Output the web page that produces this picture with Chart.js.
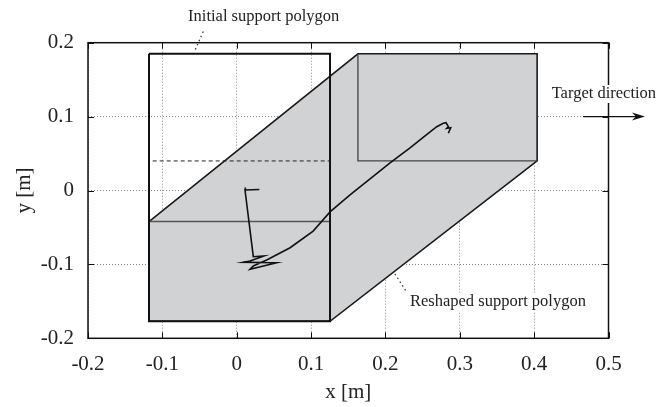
<!DOCTYPE html>
<html>
<head>
<meta charset="utf-8">
<script src="https://cdn.jsdelivr.net/npm/chart.js@4/dist/chart.umd.min.js"></script>
<style>
html,body{margin:0;padding:0;background:#fff;}
#wrap{width:672px;height:407px;position:relative;}
</style>
</head>
<body>
<div id="wrap"><canvas id="c" width="672" height="407"></canvas></div>
<script>
// ---- data ----
const xTicks = [-0.2, -0.1, 0, 0.1, 0.2, 0.3, 0.4, 0.5];
const yTicks = [-0.2, -0.1, 0, 0.1, 0.2];
const xLabel = 'x [m]';
const yLabel = 'y [m]';

// initial support polygon (rectangle) x, y
const initX = [-0.118, 0.1255, 0.1255, -0.118, -0.118];
const initY = [0.185, 0.185, -0.177, -0.177, 0.185];
// dashed line inside initial polygon
const dashX = [-0.113, 0.1255];
const dashY = [0.040, 0.040];
// reshaped support polygon outline
const reshX = [-0.118, -0.118, 0.163, 0.404, 0.404, 0.1255, -0.118];
const reshY = [-0.177, -0.042, 0.185, 0.185, 0.040, -0.177, -0.177];
// inner edges of the shifted upper part
const upperInnerX = [0.163, 0.163, 0.404];
const upperInnerY = [0.185, 0.040, 0.040];
// top edge of the remaining lower part
const lowerTopX = [-0.118, 0.1255];
const lowerTopY = [-0.042, -0.042];
// trajectory
const trajX = [0.0304, 0.0112, 0.0118, 0.0112, 0.0223, 0.0367, 0.0179, 0.0089, 0.0538, 0.0179, 0.0223, 0.0403, 0.0718, 0.1028, 0.1255, 0.1524, 0.1793, 0.2062, 0.2331, 0.2533, 0.2690, 0.2778, 0.2815, 0.2846, 0.2824, 0.2878, 0.2846];
const trajY = [0.0014, 0.0007, 0.0041, -0.0020, -0.0896, -0.0886, -0.0954, -0.0972, -0.0977, -0.1066, -0.1022, -0.0940, -0.0774, -0.0550, -0.0290, -0.0060, 0.0157, 0.0373, 0.0576, 0.0738, 0.0863, 0.0909, 0.0917, 0.0863, 0.0842, 0.0850, 0.0774];

const pts = (xs, ys) => xs.map((x, i) => ({x: x, y: ys[i]}));

const FONT = "'Liberation Serif', 'DejaVu Serif', serif";

const boxPlugin = {
  id: 'boxPlugin',
  afterDraw(chart) {
    const ctx = chart.ctx, a = chart.chartArea;
    const xs = chart.scales.x, ys = chart.scales.y;
    ctx.save();
    // tick marks (inside)
    ctx.strokeStyle = '#111'; ctx.lineWidth = 1; ctx.setLineDash([]);
    const tl = 6;
    xTicks.forEach(v => {
      const px = Math.round(xs.getPixelForValue(v)) + 0.5;
      ctx.beginPath(); ctx.moveTo(px, a.bottom); ctx.lineTo(px, a.bottom - tl);
      ctx.moveTo(px, a.top); ctx.lineTo(px, a.top + tl); ctx.stroke();
    });
    yTicks.forEach(v => {
      const py = Math.round(ys.getPixelForValue(v)) + 0.5;
      ctx.beginPath(); ctx.moveTo(a.left, py); ctx.lineTo(a.left + tl, py);
      ctx.moveTo(a.right, py); ctx.lineTo(a.right - tl, py); ctx.stroke();
    });
    // frame
    ctx.lineWidth = 1.5; ctx.strokeStyle = '#111';
    ctx.strokeRect(a.left, a.top, a.right - a.left, a.bottom - a.top);

    const P = (x, y) => [xs.getPixelForValue(x), ys.getPixelForValue(y)];
    ctx.font = "16.5px " + FONT;
    ctx.textBaseline = 'middle';
    const label = (txt, x, y, bg) => {
      const [px, py] = P(x, y);
      const w = ctx.measureText(txt).width;
      if (bg) { ctx.fillStyle = '#fff'; ctx.fillRect(px - 2, py - 9, w + 4, 18); }
      ctx.fillStyle = '#222'; ctx.textAlign = 'left';
      ctx.fillText(txt, px, py);
    };
    const leader = (x1, y1, x2, y2) => {
      const [a1, b1] = P(x1, y1), [a2, b2] = P(x2, y2);
      ctx.save(); ctx.setLineDash([1.5, 3]); ctx.strokeStyle = '#333'; ctx.lineWidth = 1.2;
      ctx.beginPath(); ctx.moveTo(a1, b1); ctx.lineTo(a2, b2); ctx.stroke(); ctx.restore();
    };
    label('Initial support polygon', -0.0654, 0.2348, false);
    leader(-0.045, 0.215, -0.056, 0.190);
    label('Reshaped support polygon', 0.233, -0.1505, true);
    leader(0.2128, -0.113, 0.2285, -0.1373);
    label('Target direction', 0.4236, 0.1306, true);
    // arrow
    const [ax1, ay] = P(0.466, 0.1), [ax2] = P(0.549, 0.1);
    ctx.strokeStyle = '#111'; ctx.lineWidth = 1.3; ctx.setLineDash([]);
    ctx.beginPath(); ctx.moveTo(ax1, ay); ctx.lineTo(ax2 - 6, ay); ctx.stroke();
    ctx.fillStyle = '#111';
    ctx.beginPath(); ctx.moveTo(ax2, ay); ctx.lineTo(ax2 - 13, ay - 4); ctx.lineTo(ax2 - 9, ay); ctx.lineTo(ax2 - 13, ay + 4); ctx.closePath(); ctx.fill();
    ctx.restore();
  }
};

const lineDs = (data, opts) => Object.assign({
  data: data, showLine: true, pointRadius: 0, pointHoverRadius: 0, tension: 0,
  borderColor: '#111', borderWidth: 1.5, fill: false
}, opts);

new Chart(document.getElementById('c'), {
  type: 'scatter',
  data: {
    datasets: [
      lineDs(pts(reshX, reshY), {fill: 'shape', backgroundColor: '#d1d2d4', borderColor: '#1a1a1a', borderWidth: 1.6, order: 6}),
      lineDs(pts(upperInnerX, upperInnerY), {borderColor: '#444', borderWidth: 1.3, order: 5}),
      lineDs(pts(lowerTopX, lowerTopY), {borderColor: '#555', borderWidth: 1.5, order: 4}),
      lineDs(pts(initX, initY), {borderColor: '#111', borderWidth: 2, order: 3}),
      lineDs(pts(dashX, dashY), {borderColor: '#222', borderWidth: 1, borderDash: [4, 3], order: 2}),
      lineDs(pts(trajX, trajY), {borderColor: '#111', borderWidth: 1.6, order: 1})
    ]
  },
  options: {
    responsive: false, animation: false, devicePixelRatio: 1,
    layout: {padding: {left: 0, top: 42.7, right: 63.5, bottom: 0}},
    plugins: {legend: {display: false}, tooltip: {enabled: false}},
    scales: {
      x: {
        type: 'linear', min: -0.2, max: 0.5, z: 1,
        afterFit: s => { s.height = 68.7; },
        afterBuildTicks: s => { s.ticks = xTicks.map(v => ({value: v})); },
        ticks: {padding: 14, color: '#222', font: {family: FONT, size: 21},
          callback: v => String(Number(v.toFixed(1)))},
        grid: {drawTicks: false, color: '#8a8a8a', lineWidth: 1},
        border: {display: false, dash: [1, 2]},
        title: {display: true, text: xLabel, color: '#222', font: {family: FONT, size: 21}, padding: {top: 0, bottom: 2}}
      },
      y: {
        type: 'linear', min: -0.2, max: 0.2, z: 1,
        afterFit: s => { s.width = 88; },
        afterBuildTicks: s => { s.ticks = yTicks.map(v => ({value: v})); },
        ticks: {padding: 14, color: '#222', font: {family: FONT, size: 21},
          callback: v => String(Number(v.toFixed(1)))},
        grid: {drawTicks: false, color: '#8a8a8a', lineWidth: 1},
        border: {display: false, dash: [1, 2]},
        title: {display: true, text: yLabel, color: '#222', font: {family: FONT, size: 21}, padding: {top: 12, bottom: 0}}
      }
    }
  },
  plugins: [boxPlugin]
});
</script>
</body>
</html>
